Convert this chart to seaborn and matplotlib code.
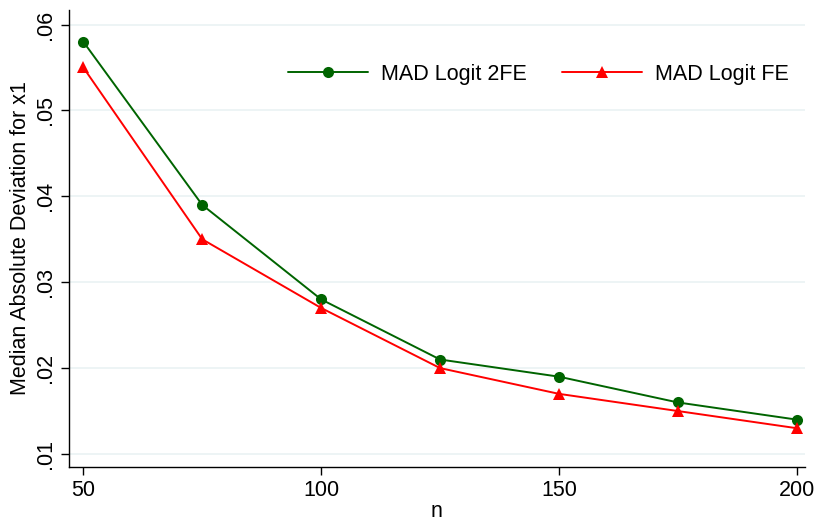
import numpy as np
import pandas as pd
import seaborn as sns
import matplotlib.pyplot as plt
from matplotlib.ticker import FuncFormatter

n = [50, 75, 100, 125, 150, 175, 200]
mad_2fe = [0.058, 0.039, 0.028, 0.021, 0.019, 0.016, 0.014]
mad_fe = [0.055, 0.035, 0.027, 0.020, 0.017, 0.015, 0.013]

df = pd.DataFrame({
    "n": n * 2,
    "mad": mad_2fe + mad_fe,
    "series": ["MAD Logit 2FE"] * len(n) + ["MAD Logit FE"] * len(n),
})

sns.set_style("white")
plt.rcParams["font.family"] = ["Liberation Sans", "DejaVu Sans"]
plt.rcParams["text.color"] = "black"
plt.rcParams["axes.labelcolor"] = "black"
plt.rcParams["xtick.color"] = "black"
plt.rcParams["ytick.color"] = "black"

fig = plt.figure(figsize=[8.18, 5.23], dpi=100)
ax = fig.add_axes([0.0844, 0.107, 0.8996, 0.874])

palette = {"MAD Logit 2FE": "#006400", "MAD Logit FE": "#ff0000"}
markers = {"MAD Logit 2FE": "o", "MAD Logit FE": "^"}
sns.lineplot(data=df, x="n", y="mad", hue="series", style="series",
             palette=palette, markers=markers, dashes=False,
             markersize=8, markeredgewidth=0, linewidth=1.4, ax=ax)

ax.set_xlim(47.0, 201.7)
ax.set_ylim(0.00848, 0.0617)
ax.set_xticks([50, 100, 150, 200])
ax.set_yticks([0.01, 0.02, 0.03, 0.04, 0.05, 0.06])
ax.yaxis.set_major_formatter(FuncFormatter(lambda v, p: ("%.2f" % v).lstrip("0")))
ax.grid(axis="y", color="#eaf2f3", linewidth=1.2)
ax.grid(axis="x", visible=False)
for s in ["top", "right"]:
    ax.spines[s].set_visible(False)
for s in ["left", "bottom"]:
    ax.spines[s].set_color("black")
    ax.spines[s].set_linewidth(1.0)
ax.tick_params(axis="both", direction="out", length=6, width=1,
               color="black", labelcolor="black", labelsize=15.5,
               left=True, bottom=True)
for lab in ax.get_yticklabels():
    lab.set_rotation(90)
    lab.set_va("center")

ax.set_xlabel("n", fontsize=15.5, labelpad=0, color="black")
ax.set_ylabel("Median Absolute Deviation for x1", fontsize=15.5, labelpad=3,
              color="black")

leg = ax.legend(title=None, ncol=2, frameon=False, fontsize=15.5,
                loc="upper right", bbox_to_anchor=(1.004, 0.925),
                handlelength=3.7, handletextpad=0.6, columnspacing=1.65)
for t in leg.get_texts():
    t.set_color("black")

fig.savefig("out.png", dpi=100)
